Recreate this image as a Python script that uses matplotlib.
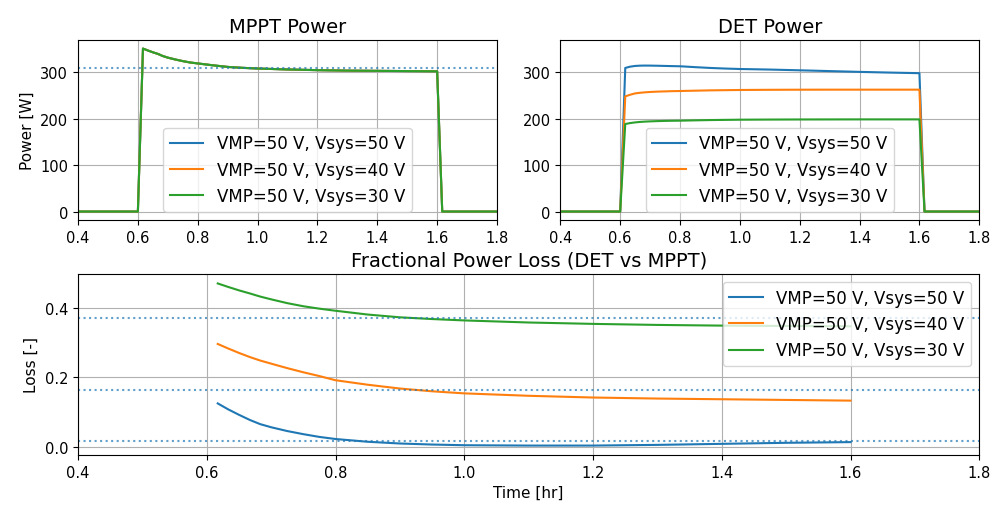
import numpy as np
import matplotlib
matplotlib.use("Agg")
import matplotlib.pyplot as plt

plt.rcParams.update({
    "xtick.labelsize": 10.5,
    "ytick.labelsize": 10.5,
    "axes.labelsize": 11,
    "axes.titlesize": 14,
    "legend.fontsize": 12,
})

# Time axis [hr] for the power traces
time_hr = [0.4, 0.6, 0.617, 0.633, 0.65, 0.667, 0.683, 0.7, 0.725, 0.75,
           0.775, 0.8, 0.85, 0.9, 0.95, 1.0, 1.1, 1.2, 1.3, 1.4, 1.5, 1.6,
           1.617, 1.8]

labels = ["VMP=50 V, Vsys=50 V", "VMP=50 V, Vsys=40 V", "VMP=50 V, Vsys=30 V"]

# MPPT power [W] (identical for all three system voltages)
mppt_power = [0, 0, 351, 347, 343, 339.5, 335, 331.5, 327.5, 324, 321, 319,
              315, 311.5, 309.5, 308, 306, 304.5, 303.5, 303, 302.5, 302, 0, 0]

# DET power [W]
det_power_50 = [0, 0, 309.3, 312, 313.6, 314.2, 314.4, 314.3, 314, 313.6,
                313.2, 312.9, 311, 309.3, 308, 307, 305.8, 304.2, 302.5,
                300.8, 299.3, 298, 0, 0]
det_power_40 = [0, 0, 248, 251.5, 254.5, 255.8, 256.8, 257.5, 258.3, 258.8,
                259.3, 259.6, 260.3, 261, 261.4, 261.8, 262.2, 262.4, 262.5,
                262.5, 262.5, 262.5, 0, 0]
det_power_30 = [0, 0, 188.5, 190.5, 192, 193, 193.7, 194.2, 194.8, 195.2,
                195.5, 195.7, 196.4, 197, 197.4, 197.8, 198.1, 198.3, 198.4,
                198.5, 198.5, 198.5, 0, 0]

# Fractional loss (DET vs MPPT) while the array produces power
loss_time_hr = [0.617, 0.633, 0.65, 0.667, 0.683, 0.7, 0.725, 0.75, 0.775,
                0.8, 0.85, 0.9, 0.95, 1.0, 1.1, 1.2, 1.3, 1.4, 1.5, 1.6]
loss_50 = [0.125, 0.108, 0.092, 0.077, 0.065, 0.056, 0.045, 0.036, 0.028,
           0.022, 0.014, 0.009, 0.006, 0.004, 0.003, 0.003, 0.005, 0.008,
           0.011, 0.013]
loss_40 = [0.297, 0.284, 0.271, 0.259, 0.249, 0.240, 0.227, 0.215, 0.204,
           0.192, 0.179, 0.168, 0.160, 0.154, 0.147, 0.142, 0.139, 0.137,
           0.135, 0.133]
loss_30 = [0.472, 0.462, 0.452, 0.443, 0.434, 0.426, 0.415, 0.406, 0.399,
           0.393, 0.382, 0.374, 0.369, 0.365, 0.359, 0.355, 0.352, 0.350,
           0.349, 0.348]

# Reference levels (daily averages)
mppt_mean_power = 309
mean_losses = [0.017, 0.164, 0.372]

det_series = [det_power_50, det_power_40, det_power_30]
loss_series = [loss_50, loss_40, loss_30]

fig = plt.figure(figsize=(9.94, 5.06), dpi=100)
ax_mppt = fig.add_axes([0.0785, 0.563, 0.4215, 0.356])
ax_det = fig.add_axes([0.5637, 0.563, 0.4215, 0.356])
ax_loss = fig.add_axes([0.0785, 0.099, 0.9067, 0.358])

for lab in labels:
    ax_mppt.plot(time_hr, mppt_power, lw=1.5, label=lab)
ax_mppt.axhline(mppt_mean_power, color="C0", ls=":", lw=1.5, alpha=0.7)
ax_mppt.set_title("MPPT Power")
ax_mppt.set_ylabel("Power [W]")

for series, lab in zip(det_series, labels):
    ax_det.plot(time_hr, series, lw=1.5, label=lab)
ax_det.set_title("DET Power")

for ax in (ax_mppt, ax_det):
    ax.set_xlim(0.4, 1.8)
    ax.set_ylim(-18.5, 369.5)
    ax.set_yticks([0, 100, 200, 300])
    ax.grid(True)
    ax.legend(loc="lower center")

for series, lab in zip(loss_series, labels):
    ax_loss.plot(loss_time_hr, series, lw=1.5, label=lab)
for level in mean_losses:
    ax_loss.axhline(level, color="C0", ls=":", lw=1.5, alpha=0.7)
ax_loss.set_title("Fractional Power Loss (DET vs MPPT)")
ax_loss.set_xlim(0.4, 1.8)
ax_loss.set_ylim(-0.024, 0.5)
ax_loss.set_yticks([0.0, 0.2, 0.4])
ax_loss.set_xlabel("Time [hr]")
ax_loss.set_ylabel("Loss [-]")
ax_loss.grid(True)
ax_loss.legend(loc="upper right")

fig.savefig("out.png", dpi=100)
